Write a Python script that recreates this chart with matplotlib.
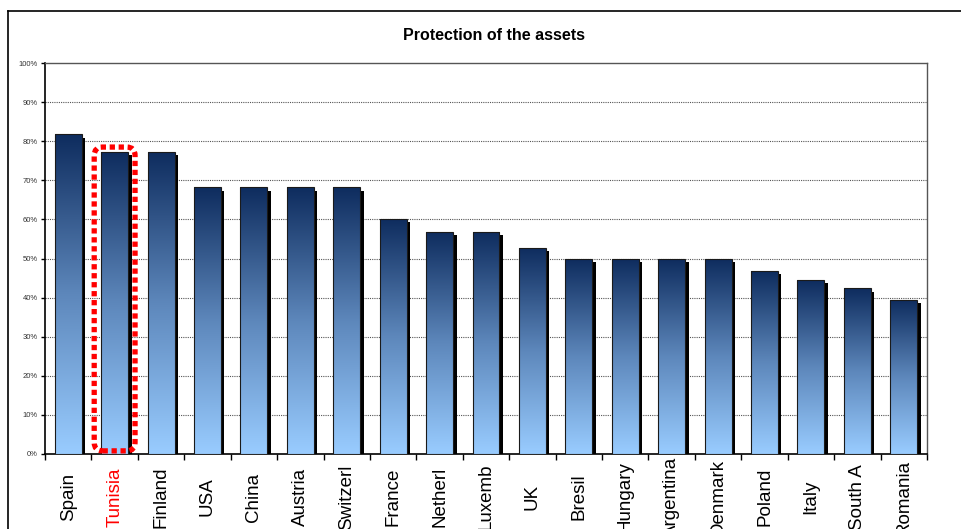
import numpy as np
import matplotlib
matplotlib.use('Agg')
import matplotlib.pyplot as plt
import matplotlib.transforms as mtransforms
from matplotlib.patches import FancyBboxPatch
from matplotlib.colors import LinearSegmentedColormap
from matplotlib.lines import Line2D

plt.rcParams['font.family'] = ['Liberation Sans', 'DejaVu Sans']

countries = ['Spain', 'Tunisia', 'Finland', 'USA', 'China', 'Austria', 'Switzerl',
             'France', 'Netherl', 'Luxemb', 'UK', 'Bresil', 'Hungary', 'Argentina',
             'Denmark', 'Poland', 'Italy', 'South A', 'Romania']
values = [0.818, 0.773, 0.773, 0.682, 0.682, 0.682, 0.682,
          0.602, 0.568, 0.568, 0.527, 0.50, 0.50, 0.50,
          0.50, 0.468, 0.445, 0.424, 0.394]
highlight = 'Tunisia'
yticks = np.arange(0, 1.01, 0.1)

fig = plt.figure(figsize=(9.61, 5.29), dpi=100)
ax = fig.add_axes([45/961, 1 - 454/529, (927-45)/961, (454-63)/529])

x = np.arange(len(countries))
width = 0.58

# shadow
shadow_tr = mtransforms.offset_copy(ax.transData, fig=fig, x=2.5, y=-2.5, units='points')
ax.bar(x, values, width, color='black', transform=shadow_tr, zorder=2)

# bars with vertical gradient
cmap = LinearSegmentedColormap.from_list('blues', ['#99ccff', '#5d87bb', '#0e2c5e'])
grad = np.linspace(0, 1, 256).reshape(-1, 1)
bars = ax.bar(x, values, width, color='none', edgecolor='#1a1a1a', linewidth=0.8, zorder=4)
for b in bars:
    x0, h = b.get_x(), b.get_height()
    im = ax.imshow(grad, cmap=cmap, aspect='auto', origin='lower',
                   extent=[x0, x0 + b.get_width(), 0, h], zorder=3,
                   vmin=0, vmax=1)
    im.set_clip_path(b)

ax.set_xlim(-0.5, len(countries) - 0.5)
ax.set_ylim(0, 1)

# grid
ax.set_yticks(yticks)
ax.set_yticklabels([f'{int(round(v*100))}%' for v in yticks], fontsize=5.5, color='#333333')
for v in yticks[1:-1]:
    ax.axhline(v, color='#555555', lw=0.8, ls=(0, (1, 1)), zorder=1)

ax.set_xticks(x)
ax.set_xticklabels(countries, rotation=90, fontsize=13.5, va='center', ha='center')
ax.set_xticks(np.arange(-0.5, len(countries), 1), minor=True)
ax.tick_params(axis='x', which='major', length=0, pad=31)
ax.tick_params(axis='x', which='minor', length=4, width=1)
ax.tick_params(axis='y', length=3, width=1, pad=2)
for lbl in ax.get_xticklabels():
    if lbl.get_text() == highlight:
        lbl.set_color('red')

for s in ['left', 'bottom']:
    ax.spines[s].set_color('black')
    ax.spines[s].set_linewidth(1.2)
for s in ['top', 'right']:
    ax.spines[s].set_color('#555555')
    ax.spines[s].set_linewidth(1.0)

# highlight box
i = countries.index(highlight)
box = FancyBboxPatch((i - 0.44, 0.008), 0.88, values[i] + 0.004,
                     boxstyle='round,pad=0,rounding_size=0.18',
                     mutation_aspect=0.12,
                     fill=False, edgecolor='red', linewidth=3.8,
                     linestyle=(0, (1, 0.7)), zorder=6)
ax.add_patch(box)

fig.text(494/961, 1 - 35/529, 'Protection of the assets', ha='center', va='center',
         fontsize=11.5, fontweight='bold')

# outer chart border
fig.add_artist(Line2D([8/961, 8/961], [0, 1 - 11/529], color='black', lw=1.2))
fig.add_artist(Line2D([8/961, 1], [1 - 11/529, 1 - 11/529], color='black', lw=1.2))

fig.savefig('out.png', dpi=100)
